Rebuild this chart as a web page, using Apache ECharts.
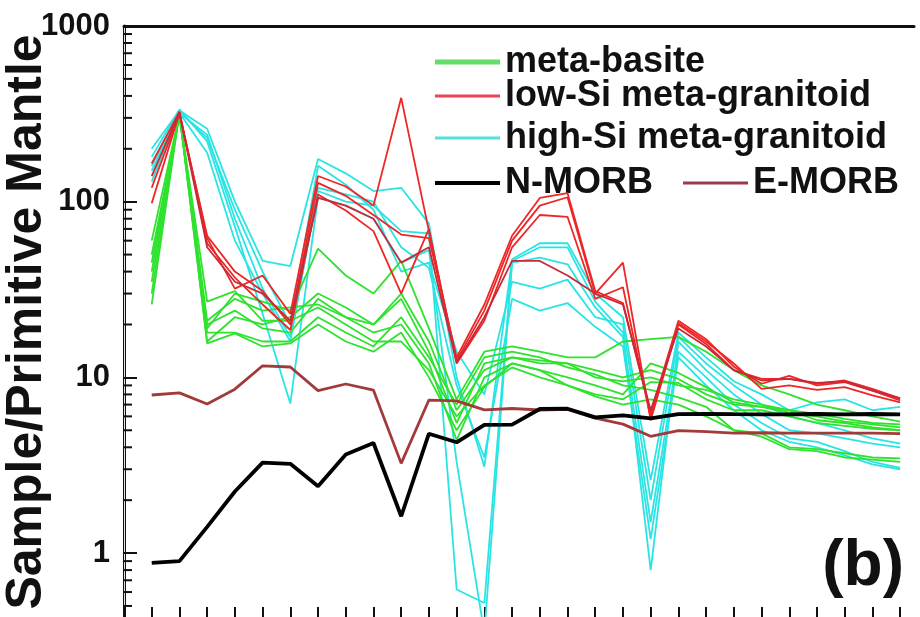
<!DOCTYPE html>
<html>
<head>
<meta charset="utf-8">
<script src="https://cdn.jsdelivr.net/npm/echarts@6/dist/echarts.min.js"></script>
<style>
html,body{margin:0;padding:0;background:#fff;}
#chart{width:920px;height:617px;}
</style>
</head>
<body>
<div id="chart"></div>
<script>
// Elements (x categories, positions 1..28; tick 0 is the axis)
const elements = ['Rb','Ba','Th','U','Nb','Ta','K','La','Ce','Pb','Pr','Sr','P','Nd','Zr','Hf','Sm','Eu','Ti','Gd','Tb','Dy','Y','Ho','Er','Tm','Yb','Lu'];

// Y axis tick labels and minor ticks
const yTicks = [1, 10, 100, 1000];
const yMinorTicks = [0.5,0.6,0.7,0.8,0.9, 2,3,4,5,6,7,8,9, 20,30,40,50,60,70,80,90, 200,300,400,500,600,700,800,900];

// Reference curves
const nMorb = [0.88,0.90,1.41,2.24,3.27,3.22,2.40,3.64,4.23,1.62,4.78,4.27,5.37,5.39,6.61,6.63,5.92,6.07,5.85,6.17,6.20,6.17,6.15,6.16,6.19,6.16,6.19,6.15];
const eMorb = [7.94,8.16,7.06,8.57,11.64,11.46,8.40,9.17,8.45,3.24,7.43,7.35,6.53,6.65,6.52,6.57,5.86,5.42,4.62,4.98,4.91,4.82,4.84,4.82,4.81,4.81,4.81,4.78];

// meta-basite samples
const metaBasite = [
  [26, 320, 16, 22, 20, 22, 30, 25, 20, 28, 14, 5.5, 12, 13, 12, 12, 10, 9.5, 10, 9, 8.5, 7.5, 7, 6.5, 6.2, 5.8, 5.5, 5.4],
  [50, 310, 19, 30, 27, 24, 54, 38, 30, 46, 19, 7.5, 14, 15, 14, 13, 13, 16, 16.5, 17, 14, 11, 9, 8, 7, 6.5, 6, 5.6],
  [35, 320, 21, 28, 24, 25, 26, 22, 18, 20, 12, 4.4, 10, 12, 11, 10, 9, 8, 12, 10.6, 8.8, 7.2, 6.8, 6.5, 5.7, 5.5, 5.2, 5.0],
  [60, 315, 27, 31, 21, 21, 25, 20, 16, 16, 11, 6, 9, 11.4, 10, 9, 8, 7.5, 9.4, 9.3, 7.5, 6.5, 6.5, 6, 5.5, 5.3, 5.1, 5.0],
  [40, 318, 18, 18, 16, 16, 22, 18, 15, 22, 13, 7, 13, 14, 13, 11.4, 10.4, 9, 8.5, 7.7, 6.8, 5, 4.8, 4, 3.9, 3.7, 3.5, 3.46],
  [30, 322, 15.6, 17.8, 15, 15.6, 20, 16, 14, 18, 10, 5, 8.8, 12, 11, 9, 7.8, 7, 7.5, 7, 6, 5, 4.6, 3.9, 3.8, 3.5, 3.4, 3.3],
  [45, 315, 20, 24, 19, 18, 28, 22, 20, 30, 16, 6.5, 11, 13, 12.5, 12, 11, 10, 11, 9.8, 8, 7, 6.8, 6.3, 6, 5.6, 5.4, 5.2]
];

// low-Si meta-granitoid samples
const lowSi = [
  [98, 320, 62, 32, 38, 23, 140, 122, 95, 390, 68, 12.5, 24, 60, 95, 106, 30, 45, 5.7, 20, 15.5, 11, 9.8, 9.8, 9.2, 9.6, 8.6, 7.6],
  [165, 325, 58, 37, 26, 18.6, 110, 89, 68, 30, 70, 12, 21, 55, 84, 82, 28, 32.6, 5.9, 20.4, 16, 12, 8.6, 9.0, 8.5, 8.8, 7.9, 7.2],
  [120, 318, 64, 40, 31, 20, 128, 108, 84, 65, 62, 13, 26, 64, 105, 112, 31, 26.5, 6.2, 21, 16.5, 11.5, 9.2, 10.2, 9.0, 9.4, 8.4, 7.4],
  [140, 322, 55, 35, 30, 21, 105, 95, 80, 45, 55, 12.2, 22, 46, 46, 38, 30, 26, 6.5, 19, 15, 11, 9.6, 9.8, 9.3, 9.5, 8.4, 7.6]
];

// high-Si meta-granitoid samples
const highSi = [
  [200, 330, 260, 100, 46, 43, 175, 145, 115, 120, 75, 10, 3.1, 47, 58, 58, 30, 22, 2.6, 18, 13, 9.5, 8, 6.5, 7.2, 7.5, 6.5, 6.8],
  [150, 320, 240, 80, 32, 17, 115, 100, 95, 68, 66, 0.62, 0.52, 46, 55, 55, 27, 18, 0.8, 16, 11, 8, 6.2, 5, 4.8, 4.5, 4.2, 4.0],
  [180, 335, 220, 72, 23, 7.1, 106, 95, 80, 45, 53, 3.3, 0.35, 45, 48, 44, 25, 17, 1.5, 14, 10, 7, 5.5, 4.5, 4.3, 3.8, 3.3, 3.05],
  [130, 320, 190, 60, 30, 16, 120, 110, 100, 55, 42, 9, 3.5, 28, 24, 26.5, 19.4, 15, 1.2, 13, 9, 6.5, 5, 4.3, 4.0, 3.6, 3.2, 3.0],
  [160, 325, 230, 90, 40, 20, 160, 125, 90, 40, 45, 14, 8, 35, 32, 36, 22, 20, 2.0, 17, 12, 9, 7, 6, 5.5, 5, 4.5, 4.2]
];

const GREEN = '#2ee22e', RED = '#ee2626', DARKRED = '#c82838', CYAN = '#2ae4e4', EM = '#a33a3a';
const FONT = 'Liberation Sans, Arial, sans-serif';

const toPts = arr => arr.map((v, i) => [i + 1, v]);
const xTicks = [0].concat(elements.map((e, i) => i + 1));

const series = [];
highSi.forEach(a => series.push({name:'high-Si meta-granitoid', type:'line', data:toPts(a), symbol:'none', clip:true,
  lineStyle:{width:1.8, color:CYAN}, itemStyle:{color:CYAN}, z:2}));
metaBasite.forEach(a => series.push({name:'meta-basite', type:'line', data:toPts(a), symbol:'none', clip:true,
  lineStyle:{width:1.8, color:GREEN}, itemStyle:{color:GREEN}, z:3}));
lowSi.forEach((a, k) => series.push({name:'low-Si meta-granitoid', type:'line', data:toPts(a), symbol:'none', clip:true,
  lineStyle:{width:1.8, color: k === 3 ? DARKRED : RED}, itemStyle:{color:RED}, z:4}));
series.push({name:'E-MORB', type:'line', data:toPts(eMorb), symbol:'none', lineStyle:{width:2.8, color:EM}, itemStyle:{color:EM}, z:5});
series.push({name:'N-MORB', type:'line', data:toPts(nMorb), symbol:'none', lineStyle:{width:3.8, color:'#000'}, itemStyle:{color:'#000'}, z:6});
// minor ticks of the log axis, placed through the axis scale
series.push({type:'custom', silent:true, clip:false, z:10, data:yMinorTicks.map(v => [0, v]),
  renderItem:(params, api) => {
    const p = api.coord([0, api.value(1)]);
    return {type:'line', shape:{x1:p[0], y1:p[1], x2:p[0] + 8, y2:p[1]}, style:{stroke:'#111', lineWidth:2}};
  }});

const legendText = {fontSize:36, fontWeight:'bold', fontFamily:FONT, color:'#111', lineHeight:40};
function mkLegend(name, left, top, color, h) {
  return {data:[name], left:left, top:top, orient:'horizontal', padding:0, itemWidth:65, itemHeight:h, icon:'rect',
    selectedMode:false, textStyle:legendText, itemStyle:{color:color, borderWidth:0}};
}

const chart = echarts.init(document.getElementById('chart'), null, {renderer:'canvas'});
chart.setOption({
  animation:false,
  backgroundColor:'#ffffff',
  grid:{left:124, top:26, width:790, height:592, containLabel:false, outerBoundsMode:'none'},
  xAxis:[
    {type:'value', min:0, max:28.5, position:'bottom',
     axisLine:{show:true, lineStyle:{color:'#111', width:3}},
     axisTick:{show:true, inside:true, length:11, lineStyle:{color:'#111', width:2}, customValues:xTicks},
     axisLabel:{show:false}, splitLine:{show:false}},
    {type:'value', min:0, max:28.5, position:'top',
     axisLine:{show:true, lineStyle:{color:'#111', width:3}},
     axisTick:{show:false}, axisLabel:{show:false}, splitLine:{show:false}}
  ],
  yAxis:[
    {type:'log', logBase:10, min:0.427, max:1000, position:'left',
     name:'Sample/Primitive Mantle', nameLocation:'middle', nameRotate:90, nameGap:72, nameMoveOverlap:false,
     nameTextStyle:{fontSize:50, fontWeight:'bold', fontFamily:FONT, color:'#111'},
     axisLine:{show:true, lineStyle:{color:'#111', width:3}},
     axisTick:{show:true, inside:true, length:13, lineStyle:{color:'#111', width:2}, customValues:yTicks},
     axisLabel:{show:true, customValues:yTicks, margin:14, formatter:v => String(Math.round(v)),
       fontSize:31, fontWeight:'bold', fontFamily:FONT, color:'#111'},
     splitLine:{show:false}},
    {type:'log', logBase:10, min:0.427, max:1000, position:'right',
     axisLine:{show:true, lineStyle:{color:'#e2e2e2', width:1}},
     axisTick:{show:false}, axisLabel:{show:false}, splitLine:{show:false}}
  ],
  title:{text:'(b)', right:16, top:535, padding:0,
    textStyle:{fontSize:64, fontWeight:'bold', fontFamily:FONT, color:'#111'}},
  legend:[
    mkLegend('meta-basite', 435, 42, '#66dd66', 5),
    mkLegend('low-Si meta-granitoid', 435, 76, '#ee4455', 3),
    mkLegend('high-Si meta-granitoid', 435, 118, '#55e0e0', 3),
    mkLegend('N-MORB', 435, 163, '#000000', 4),
    mkLegend('E-MORB', 683, 163, '#9a3a4a', 3)
  ],
  series:series
});
</script>
</body>
</html>
